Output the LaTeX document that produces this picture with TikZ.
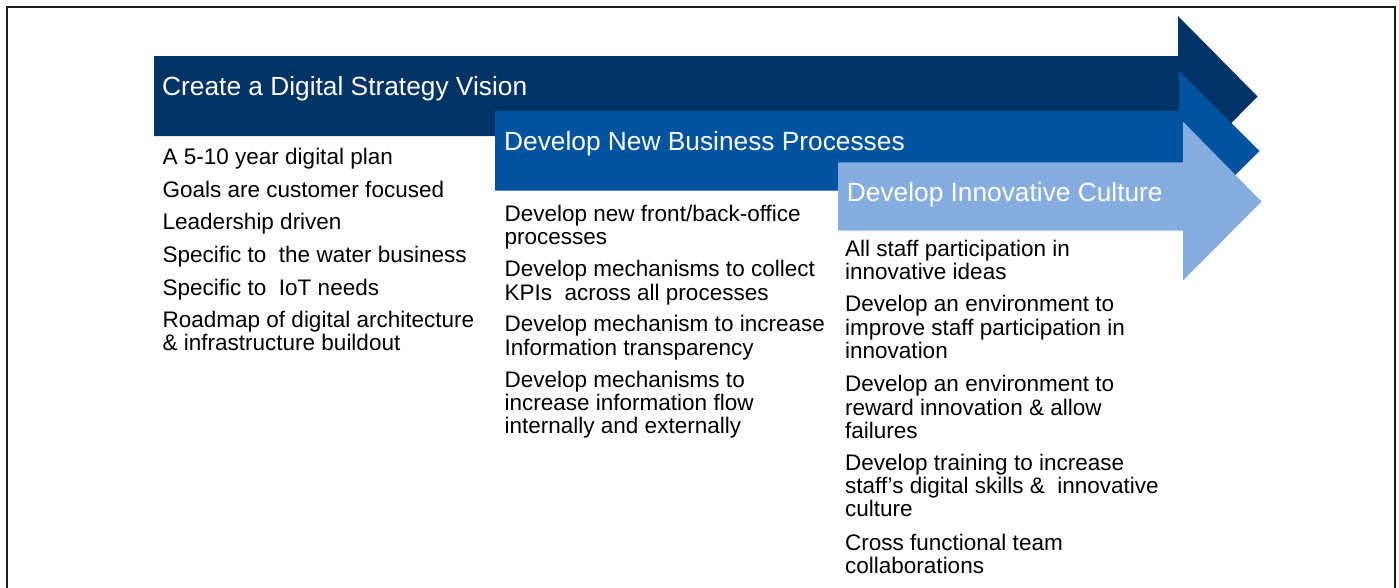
\documentclass[tikz,border=0pt]{standalone}
\usepackage{fontspec}
\setmainfont{Liberation Sans}
\definecolor{darkblue}{RGB}{0,52,102}
\definecolor{midblue}{RGB}{0,84,159}
\definecolor{lightblue}{RGB}{133,173,223}
\definecolor{frame}{RGB}{30,30,30}
\begin{document}
\begin{tikzpicture}[x=1pt,y=-1pt,
  hdr/.style={anchor=base west,inner sep=0pt,text=white,font=\fontsize{26.3}{28}\selectfont},
  item/.style={anchor=base west,inner sep=0pt,text=black,font=\fontsize{22.5}{24}\selectfont}]
\useasboundingbox (0,0) rectangle (1399,587);
% frame (open at bottom)
\draw[frame,line width=1.5pt] (6.8,590) -- (6.8,6.8) -- (1394.8,6.8) -- (1394.8,590);
% arrows
\fill[darkblue] (154,56) -- (1178,56) -- (1178,16) -- (1257.5,96.5) -- (1178,177) -- (1178,136) -- (154,136) -- cycle;
\fill[midblue] (495,111) -- (1179,111) -- (1179,71) -- (1259.5,151) -- (1179,231) -- (1179,190.5) -- (495,190.5) -- cycle;
\fill[lightblue] (838,162.3) -- (1183,162.3) -- (1183,121.7) -- (1261.5,201.5) -- (1183,280.5) -- (1183,230.7) -- (838,230.7) -- cycle;
% headers
\node[hdr] (h1) at (162,95) {Create a Digital Strategy Vision};
\node[hdr] (h2) at (504,150) {Develop New Business Processes};
\node[hdr] (h3) at (846.7,201.7) {Develop Innovative Culture};
% column 1
\node[item] (a1) at (162.5,164.5) {A 5-10 year digital plan};
\node[item] (a2) at (162.5,197) {Goals are customer focused};
\node[item] (a3) at (162.5,229.3) {Leadership driven};
\node[item] (a4) at (162.5,262.3) {Specific to\ \ the water business};
\node[item] (a5) at (162.5,295.3) {Specific to\ \ IoT needs};
\node[item] (a6) at (162.5,327.3) {Roadmap of digital architecture};
\node[item] (a7) at (162.5,350.7) {\& infrastructure buildout};
% column 2
\node[item] (b1) at (504.5,221.7) {Develop new front/back-office};
\node[item] (b2) at (504.5,244.7) {processes};
\node[item] (b3) at (504.5,276.7) {Develop mechanisms to collect};
\node[item] (b4) at (504.5,300) {KPIs\ \ across all processes};
\node[item] (b5) at (504.5,331.7) {Develop mechanism to increase};
\node[item] (b6) at (504.5,355) {Information transparency};
\node[item] (b7) at (504.5,387.7) {Develop mechanisms to};
\node[item] (b8) at (504.5,410.5) {increase information flow};
\node[item] (b9) at (504.5,433.5) {internally and externally};
% column 3
\node[item] (c1) at (845,256.7) {All staff participation in};
\node[item] (c2) at (845,279.5) {innovative ideas};
\node[item] (c3) at (845,311.7) {Develop an environment to};
\node[item] (c4) at (845,335) {improve staff participation in};
\node[item] (c5) at (845,358) {innovation};
\node[item] (c6) at (845,391.7) {Develop an environment to};
\node[item] (c7) at (845,415) {reward innovation \& allow};
\node[item] (c8) at (845,438.3) {failures};
\node[item] (c9) at (845,470) {Develop training to increase};
\node[item] (c10) at (845,493.3) {staff’s digital skills \&\ \ innovative};
\node[item] (c11) at (845,516.7) {culture};
\node[item] (c12) at (845,550) {Cross functional team};
\node[item] (c13) at (845,573) {collaborations};
\end{tikzpicture}
\end{document}
